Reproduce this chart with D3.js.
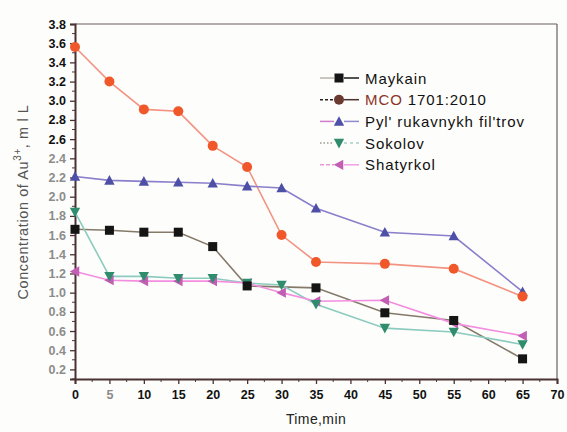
<!DOCTYPE html>
<html>
<head>
<meta charset="utf-8">
<script src="https://cdn.jsdelivr.net/npm/d3@7"></script>
<style>
  html, body { margin: 0; padding: 0; background: #fdfdfb; }
  svg { display: block; font-family: "Liberation Sans", Arial, sans-serif; }
</style>
</head>
<body>
<svg id="chart" width="567" height="432"></svg>
<script>
// Sampling times (min)
const times = [0, 5, 10, 15, 20, 25, 30, 35, 45, 55, 65];

// Au3+ concentration for each sample
const maykain    = [1.66, 1.65, 1.63, 1.63, 1.48, 1.07, null, 1.05, 0.79, 0.71, 0.31];
const mco        = [3.56, 3.20, 2.91, 2.89, 2.53, 2.31, 1.60, 1.32, 1.30, 1.25, 0.96];
const pyl        = [2.21, 2.17, 2.16, 2.15, 2.14, 2.11, 2.09, 1.88, 1.63, 1.59, 1.01];
const sokolov    = [1.84, 1.17, 1.17, 1.15, 1.15, 1.10, 1.08, 0.88, 0.63, 0.59, 0.46];
const shatyrkol  = [1.22, 1.13, 1.12, 1.12, 1.12, 1.10, 1.00, 0.91, 0.92, 0.68, 0.55];

const seriesNames = ["Maykain", "MCO 1701:2010", "Pyl' rukavnykh fil'trov", "Sokolov", "Shatyrkol"];
const xTickValues = d3.range(0, 71, 5);
const yTickValues = d3.range(2, 39, 2).map(v => v / 10);

const series = [
  { name: seriesNames[0], values: maykain,   line: "#85796a", fill: "#151515", shape: "square" },
  { name: seriesNames[1], values: mco,       line: "#f39483", fill: "#f0582a", shape: "circle" },
  { name: seriesNames[2], values: pyl,       line: "#8a7fcb", fill: "#4e4fa6", shape: "triUp" },
  { name: seriesNames[3], values: sokolov,   line: "#8ccbbf", fill: "#2f8c6c", shape: "triDown" },
  { name: seriesNames[4], values: shatyrkol, line: "#f38de0", fill: "#c25fb4", shape: "triLeft" }
];

const svg = d3.select("#chart");
const plotL = 75, plotR = 557, plotT = 24, plotB = 379;

const x = d3.scaleLinear().domain([0, 70]).range([plotL, plotR]);
const y = d3.scaleLinear().domain([0.1, 3.8]).range([plotB, plotT]);

// frame (top and right)
svg.append("line").attr("x1", plotL).attr("x2", plotR).attr("y1", plotT).attr("y2", plotT)
  .attr("stroke", "#6b6060").attr("stroke-width", 1.2);
svg.append("line").attr("x1", plotR).attr("x2", plotR).attr("y1", plotT).attr("y2", plotB)
  .attr("stroke", "#6b6060").attr("stroke-width", 1.2);

// minor ticks
const yMinor = d3.range(1, 38, 2).map(v => v / 10);
svg.append("g").selectAll("line").data(yMinor).join("line")
  .attr("x1", plotL - 3).attr("x2", plotL).attr("y1", d => y(d)).attr("y2", d => y(d))
  .attr("stroke", "#4a3a3a").attr("stroke-width", 1);
const xMinor = d3.range(2.5, 70, 5);
svg.append("g").selectAll("line").data(xMinor).join("line")
  .attr("x1", d => x(d)).attr("x2", d => x(d)).attr("y1", plotB).attr("y2", plotB + 3)
  .attr("stroke", "#4a3a3a").attr("stroke-width", 1);

// axes
const xAxis = svg.append("g").attr("transform", `translate(0,${plotB})`)
  .call(d3.axisBottom(x).tickValues(xTickValues).tickSize(5).tickPadding(6).tickFormat(d3.format("d")));
const yAxis = svg.append("g").attr("transform", `translate(${plotL},0)`)
  .call(d3.axisLeft(y).tickValues(yTickValues).tickSize(5).tickPadding(4).tickFormat(d3.format(".1f")));

[xAxis, yAxis].forEach(g => {
  g.select(".domain").attr("stroke", "#4a3232").attr("stroke-width", 2);
  g.selectAll(".tick line").attr("stroke", "#4a3232").attr("stroke-width", 1.3);
  g.selectAll("text").attr("font-size", 12.5).attr("font-weight", "bold")
    .attr("font-family", "'Liberation Sans', Arial, sans-serif");
});
xAxis.selectAll("text").attr("fill", d => d === 5 ? "#8a8a8a" : "#111");
yAxis.selectAll("text").attr("fill", d => d >= 2.55 ? "#111" : "#8c8c8c");

// axis titles
svg.append("text").attr("x", 316).attr("y", 424).attr("text-anchor", "middle")
  .attr("font-size", 14).attr("letter-spacing", 0.4).attr("fill", "#222").text("Time,min");
const yt = svg.append("text").attr("transform", "translate(28,202) rotate(-90)")
  .attr("text-anchor", "middle").attr("font-size", 14.5).attr("letter-spacing", 0.6).attr("fill", "#555");
yt.append("tspan").text("Concentration of Au");
yt.append("tspan").attr("dy", -7).attr("font-size", 10).text("3+");
yt.append("tspan").attr("dy", 7).text(", m l L");

// marker drawing
function marker(g, shape, fill, size) {
  const s = size;
  if (shape === "square") {
    g.append("rect").attr("x", -s / 2).attr("y", -s / 2).attr("width", s).attr("height", s).attr("fill", fill);
  } else if (shape === "circle") {
    g.append("circle").attr("r", s / 2 + 0.5).attr("fill", fill);
  } else {
    const h = s * 0.95, w = s * 1.15;
    let pts;
    if (shape === "triUp") pts = [[0, -h / 2 - 1], [w / 2, h / 2], [-w / 2, h / 2]];
    if (shape === "triDown") pts = [[0, h / 2 + 1], [w / 2, -h / 2], [-w / 2, -h / 2]];
    if (shape === "triLeft") pts = [[-h / 2 - 1, 0], [h / 2, -w / 2], [h / 2, w / 2]];
    g.append("polygon").attr("points", pts.map(p => p.join(",")).join(" ")).attr("fill", fill);
  }
}

const line = d3.line().x(d => x(d.t)).y(d => y(d.v));

// lines first, then markers
series.forEach(s => {
  const pts = times.map((t, i) => ({ t, v: s.values[i] })).filter(d => d.v != null);
  svg.append("path").datum(pts).attr("d", line)
    .attr("fill", "none").attr("stroke", s.line).attr("stroke-width", 1.6);
});
series.slice().reverse().forEach(s => {
  const pts = times.map((t, i) => ({ t, v: s.values[i] })).filter(d => d.v != null);
  pts.forEach(d => {
    const g = svg.append("g").attr("transform", `translate(${x(d.t)},${y(d.v)})`);
    marker(g, s.shape, s.fill, 9);
  });
});

// legend: each sample has a left and right line segment around the marker
const legendLeft = [
  { c: "#b8b4ae", dash: "" },
  { c: "#2a2020", dash: "3,2" },
  { c: "#d27ccf", dash: "" },
  { c: "#9a9a90", dash: "1.5,2" },
  { c: "#e89ad8", dash: "4,2" }
];
const legendRight = [
  { c: "#1a1a1a", dash: "" },
  { c: "#4a3030", dash: "" },
  { c: "#9088d0", dash: "" },
  { c: "#a8d0c8", dash: "3,3" },
  { c: "#f0a0e4", dash: "" }
];
series.forEach((s, i) => {
  const ly = 78 + i * 21.7;
  const g = svg.append("g");
  g.append("line").attr("x1", 320).attr("x2", 334).attr("y1", ly).attr("y2", ly)
    .attr("stroke", legendLeft[i].c).attr("stroke-width", 1.5).attr("stroke-dasharray", legendLeft[i].dash);
  g.append("line").attr("x1", 344).attr("x2", 359).attr("y1", ly).attr("y2", ly)
    .attr("stroke", legendRight[i].c).attr("stroke-width", 1.5).attr("stroke-dasharray", legendRight[i].dash);
  const m = g.append("g").attr("transform", `translate(339,${ly})`);
  marker(m, s.shape, i === 1 ? "#6a3a30" : s.fill, 9);
  const t = g.append("text").attr("x", 365).attr("y", ly + 5.5).attr("font-size", 15)
    .attr("letter-spacing", 0.9).attr("fill", "#111");
  if (i === 1) {
    t.append("tspan").attr("fill", "#8a3428").text("MCO");
    t.append("tspan").text(" 1701:2010");
  } else {
    t.text(s.name);
  }
});
</script>
</body>
</html>
